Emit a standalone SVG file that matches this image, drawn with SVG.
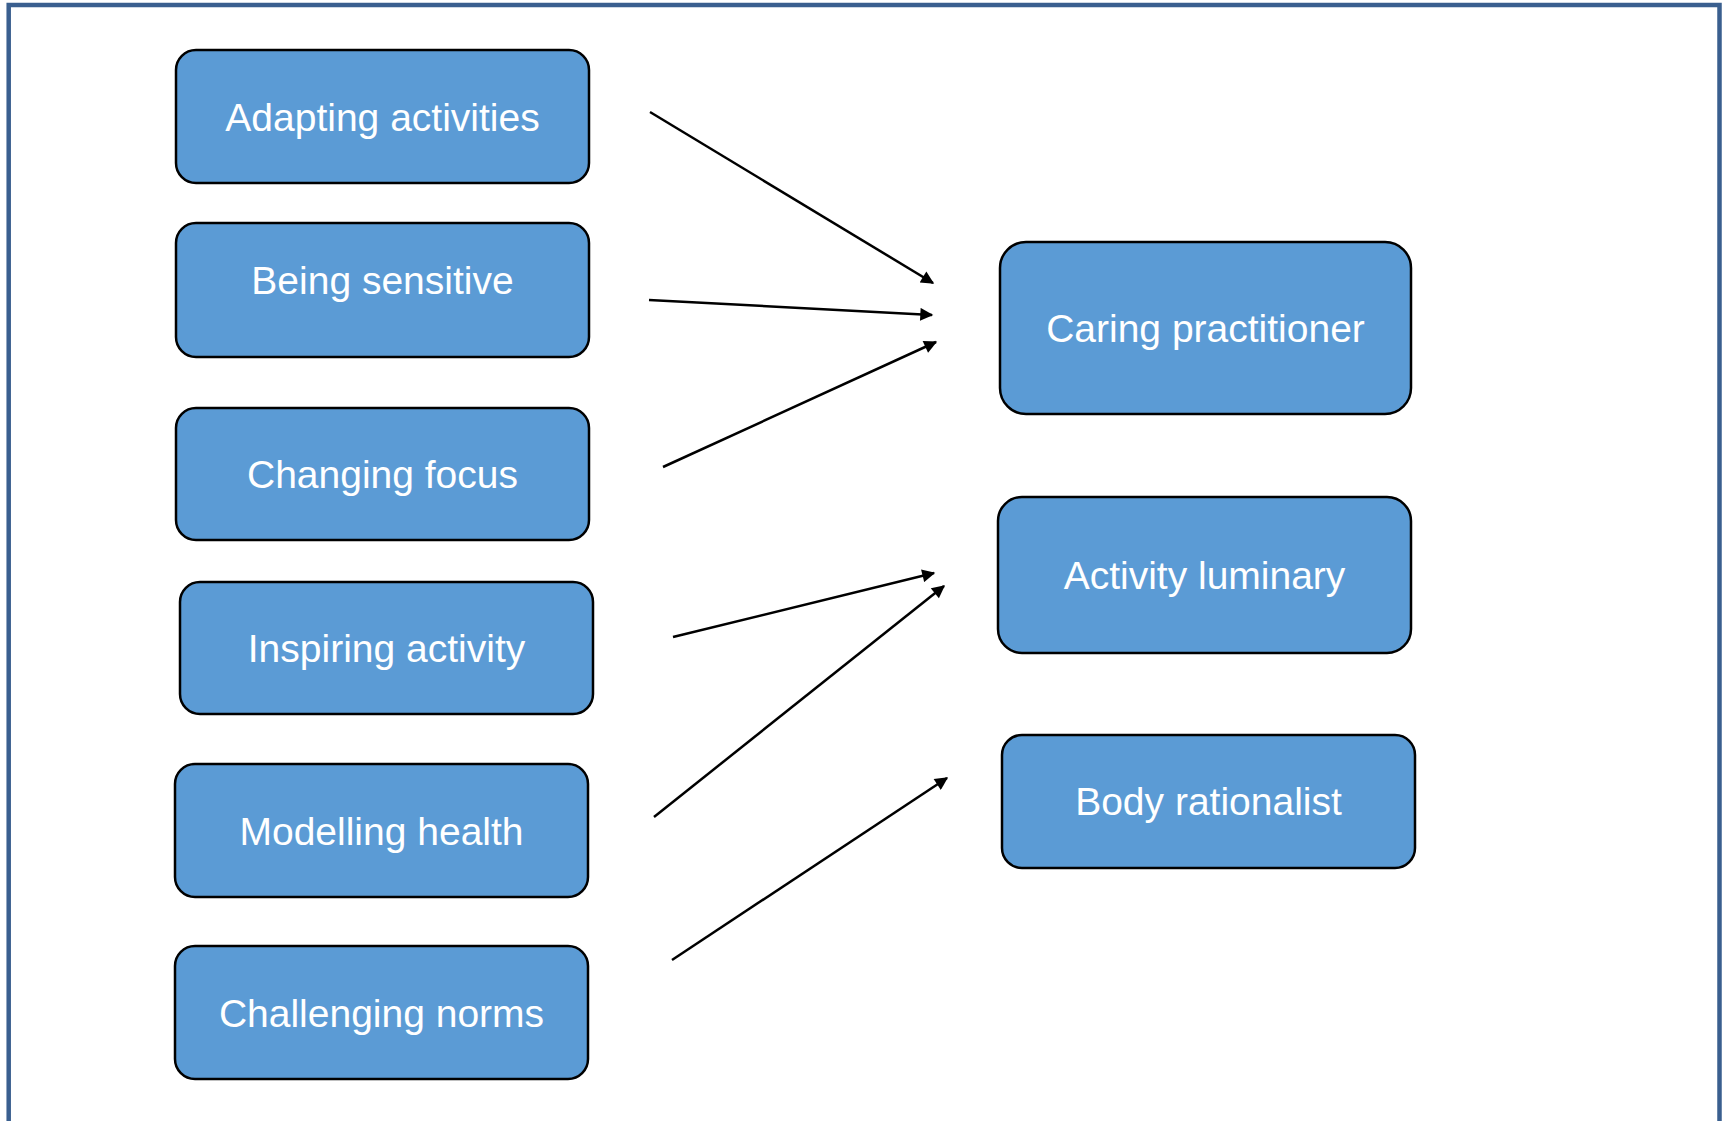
<svg xmlns="http://www.w3.org/2000/svg" width="1723" height="1121" viewBox="0 0 1723 1121">
<style>
.box{fill:#5b9bd5;stroke:#000;stroke-width:2.5}
.lbl{font-family:"Liberation Sans",Arial,sans-serif;font-size:39px;fill:#fff;text-anchor:middle}
.conn{stroke:#000;stroke-width:2.5;fill:none;marker-end:url(#ah)}
</style>
<defs>
<marker id="ah" viewBox="0 0 10 10" refX="9" refY="5" markerWidth="6.2" markerHeight="5.2" orient="auto" markerUnits="strokeWidth">
<path d="M0,0 L10,5 L0,10 Z" fill="#000"/>
</marker>
</defs>
<rect x="0" y="0" width="1723" height="1121" fill="#fff"/>
<path d="M8.7,1121 V5 H1719.5 V1121" fill="none" stroke="#3a5f8f" stroke-width="4.5"/>
<g id="n-adapting"><rect class="box" x="176" y="50" width="413" height="133" rx="20"/><text class="lbl" x="382.5" y="131">Adapting activities</text></g>
<g id="n-sensitive"><rect class="box" x="176" y="223" width="413" height="134" rx="20"/><text class="lbl" x="382.5" y="294">Being sensitive</text></g>
<g id="n-focus"><rect class="box" x="176" y="408" width="413" height="132" rx="20"/><text class="lbl" x="382.5" y="488">Changing focus</text></g>
<g id="n-inspiring"><rect class="box" x="180" y="582" width="413" height="132" rx="20"/><text class="lbl" x="386.5" y="662">Inspiring activity</text></g>
<g id="n-modelling"><rect class="box" x="175" y="764" width="413" height="133" rx="20"/><text class="lbl" x="381.5" y="845">Modelling health</text></g>
<g id="n-challenging"><rect class="box" x="175" y="946" width="413" height="133" rx="20"/><text class="lbl" x="381.5" y="1027">Challenging norms</text></g>
<g id="n-caring"><rect class="box" x="1000" y="242" width="411" height="172" rx="26"/><text class="lbl" x="1205.5" y="342">Caring practitioner</text></g>
<g id="n-luminary"><rect class="box" x="998" y="497" width="413" height="156" rx="24"/><text class="lbl" x="1204.5" y="589">Activity luminary</text></g>
<g id="n-body"><rect class="box" x="1002" y="735" width="413" height="133" rx="20"/><text class="lbl" x="1208.5" y="815">Body rationalist</text></g>
<g id="connectors">
<line class="conn" x1="650" y1="112" x2="933" y2="283"/>
<line class="conn" x1="649" y1="300" x2="932" y2="315"/>
<line class="conn" x1="663" y1="467" x2="936" y2="342"/>
<line class="conn" x1="673" y1="637" x2="934" y2="573"/>
<line class="conn" x1="654" y1="817" x2="944" y2="586"/>
<line class="conn" x1="672" y1="960" x2="947" y2="778"/>
</g>
</svg>
